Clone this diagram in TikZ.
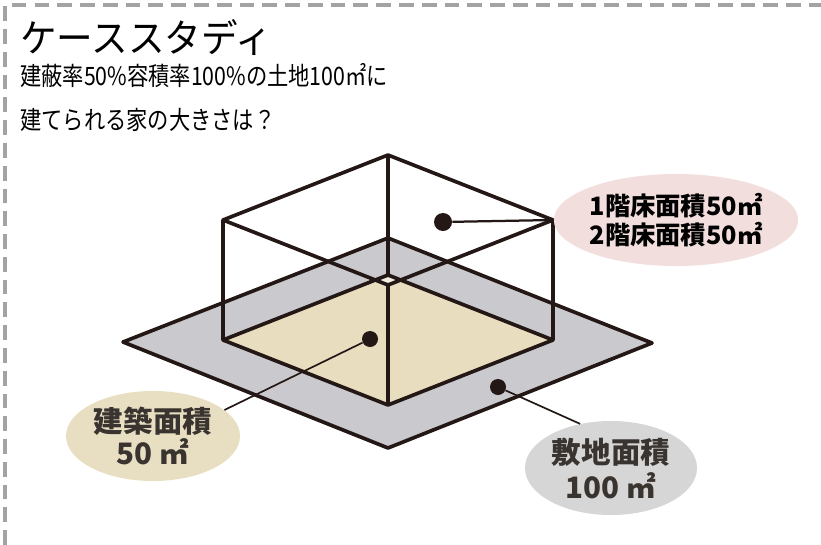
\documentclass[tikz,border=0pt]{standalone}
\usepackage{fontspec}
\setmainfont{Noto Sans CJK JP}
\usepackage{tikz}
\usetikzlibrary{shapes.geometric}
\definecolor{Ink}{HTML}{231815}
\definecolor{Frame}{HTML}{A3A3A3}
\definecolor{Site}{HTML}{CACACE}
\definecolor{Floor}{HTML}{E9DDBF}
\definecolor{FloorLight}{HTML}{F5EFE1}
\definecolor{PinkBg}{HTML}{F2DEDD}
\definecolor{TanBg}{HTML}{E8DFC3}
\definecolor{GreyBg}{HTML}{D6D6D6}
\definecolor{LabelInk}{HTML}{3A3430}

\begin{document}
\begin{tikzpicture}[x=0.025cm,y=-0.025cm,
      edge/.style={draw=Ink,line width=2.6pt,line join=round},
      leader/.style={draw=Ink,line width=1.2pt},
      dot/.style={circle,fill=Ink,minimum size=0.4cm,inner sep=0pt},
      bubble/.style={ellipse,inner sep=0pt,align=center},
      heading/.style={anchor=base west,inner sep=0pt}
    ]
      \useasboundingbox (0,0) rectangle (821,545);
      \draw[Frame,line width=2.8pt,dash pattern=on 10.5pt off 5.7pt] (5,545) -- (5,5) -- (821,5);

      \node[heading,font=\fontsize{26}{30}\selectfont] (title) at (20,53)
        {\scalebox{1}[1.06]{ケーススタディ}};
      \node[heading,font=\fontsize{18}{20}\selectfont] (q1) at (20,86)
        {\scalebox{0.84}[1]{建蔽率50\%容積率100\%の土地100㎡に}};
      \node[heading,font=\fontsize{18}{20}\selectfont] (q2) at (20,129)
        {\scalebox{0.84}[1]{建てられる家の大きさは？}};

      % site plane and floor
      \coordinate (gt) at (388,238);
      \coordinate (gl) at (123,342);
      \coordinate (gf) at (388,448);
      \coordinate (gr) at (652,343);
      % box corners: top face / bottom face
      \coordinate (tb) at (388,155);
      \coordinate (tl) at (223,220);
      \coordinate (tr) at (553,220);
      \coordinate (tf) at (388,285);
      \coordinate (bb) at (388,275);
      \coordinate (bl) at (223,340);
      \coordinate (br) at (553,340);
      \coordinate (bf) at (388,405);

      \fill[Site] (gt) -- (gl) -- (gf) -- (gr) -- cycle;
      \fill[Floor] (bb) -- (bl) -- (bf) -- (br) -- cycle;
      \fill[FloorLight] (bb) -- (375,280) -- (tf) -- (401,280) -- cycle;
      \draw[edge] (gt) -- (gl) -- (gf) -- (gr) -- cycle;

      \draw[edge] (tb) -- (tl) -- (tf) -- (tr) -- cycle;
      \draw[edge] (bb) -- (bl) -- (bf) -- (br) -- cycle;
      \draw[edge] (tl) -- (bl) (tr) -- (br) (tb) -- (bb) (tf) -- (bf);

      \node[dot] (floordot) at (370,339) {};
      \node[dot] (sitedot) at (498,387) {};
      \node[dot,minimum size=0.45cm] (roomdot) at (443,222) {};

      \node[bubble,fill=PinkBg,minimum width=5.55cm,minimum height=2.3cm,
        font=\bfseries\fontsize{18}{21}\selectfont] (floors) at (676,220)
        {1階床面積50㎡\\2階床面積50㎡};
      \node[bubble,fill=TanBg,minimum width=4.35cm,minimum height=2.25cm,
        text=LabelInk,font=\bfseries\fontsize{21}{23}\selectfont] (buildarea) at (153,436)
        {建築面積\\50 ㎡};
      \node[bubble,fill=GreyBg,minimum width=4.3cm,minimum height=2.35cm,
        text=LabelInk,font=\bfseries\fontsize{21}{25}\selectfont] (sitearea) at (611,468)
        {敷地面積\\100 ㎡};

      \draw[leader,line width=1.6pt] (roomdot) -- (floors.west);
      \draw[leader] (floordot) -- (buildarea.20);
      \draw[leader] (sitedot) -- (sitearea.125);
    \end{tikzpicture}
\end{document}
